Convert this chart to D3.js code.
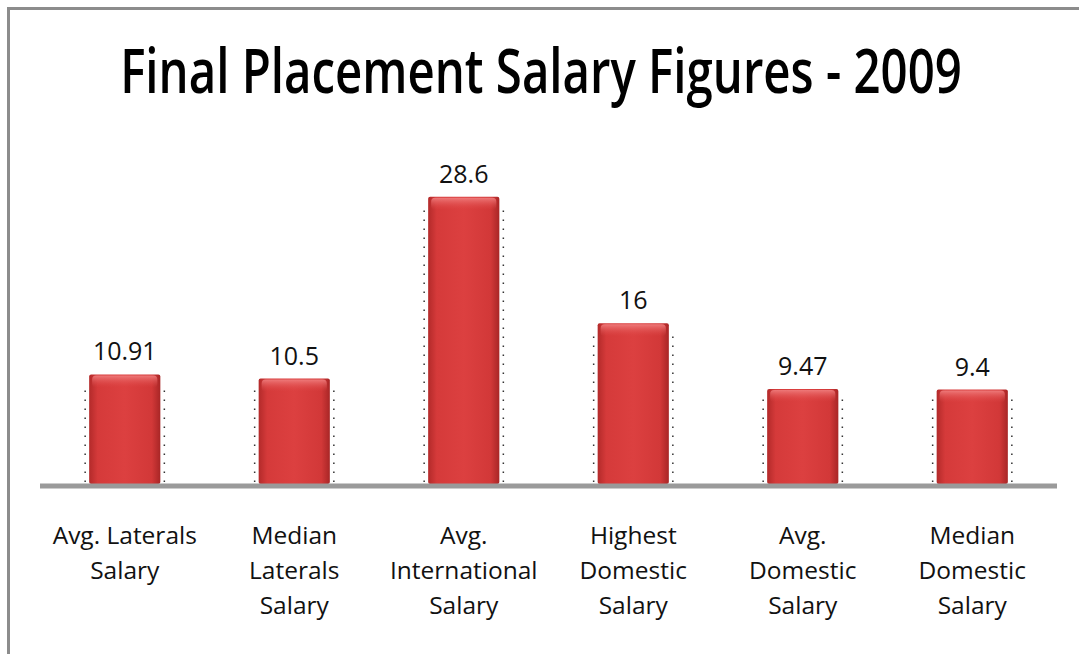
<!DOCTYPE html>
<html>
<head>
<meta charset="utf-8">
<script src="https://cdn.jsdelivr.net/npm/d3@7"></script>
<style>
  body { margin: 0; background: #fff; }
  svg text { font-family: "Open Sans", "Liberation Sans", sans-serif; }
</style>
</head>
<body>
<div id="chart"></div>
<script>
const categories = [
  ["Avg. Laterals", "Salary"],
  ["Median", "Laterals", "Salary"],
  ["Avg.", "International", "Salary"],
  ["Highest", "Domestic", "Salary"],
  ["Avg.", "Domestic", "Salary"],
  ["Median", "Domestic", "Salary"]
];
const values = [10.91, 10.5, 28.6, 16, 9.47, 9.4];
const valueLabels = ["10.91", "10.5", "28.6", "16", "9.47", "9.4"];

const width = 1079, height = 654;
const baseY = 484;

const svg = d3.select("#chart")
  .append("svg")
  .attr("width", width)
  .attr("height", height);

// frame (only top and left edges are visible in the crop)
svg.append("path")
  .attr("d", `M8.5,${height} V8.5 H${width}`)
  .attr("fill", "none")
  .attr("stroke", "#8c8c8c")
  .attr("stroke-width", 3);

// title: condensed look by squeezing horizontally to the reference width
const title = svg.append("text")
  .attr("x", 0)
  .attr("y", 0)
  .attr("text-anchor", "middle")
  .attr("font-size", 62)
  .attr("font-weight", 600)
  .text("Final Placement Salary Figures - 2009");
const titleW = title.node().getComputedTextLength();
title.attr("transform", `translate(541,93) scale(${842 / titleW},1)`);

const x = d3.scaleBand()
  .domain(d3.range(values.length))
  .range([40, 1057])
  .paddingInner(0.58)
  .paddingOuter(0.29);

const y = d3.scaleLinear()
  .domain([0, 30])
  .range([baseY, baseY - 301.2]);

const defs = svg.append("defs");
const hGrad = defs.append("linearGradient").attr("id", "barH");
hGrad.append("stop").attr("offset", "0%").attr("stop-color", "#b32a2a");
hGrad.append("stop").attr("offset", "12%").attr("stop-color", "#d53a3a");
hGrad.append("stop").attr("offset", "50%").attr("stop-color", "#dc4040");
hGrad.append("stop").attr("offset", "88%").attr("stop-color", "#d23838");
hGrad.append("stop").attr("offset", "100%").attr("stop-color", "#a82626");

const topGrad = defs.append("linearGradient").attr("id", "barTop")
  .attr("x1", 0).attr("x2", 0).attr("y1", 0).attr("y2", 1);
topGrad.append("stop").attr("offset", "0%").attr("stop-color", "#f08080").attr("stop-opacity", 0.9);
topGrad.append("stop").attr("offset", "100%").attr("stop-color", "#e04848").attr("stop-opacity", 0);

const bars = svg.append("g")
  .selectAll("g")
  .data(values)
  .join("g");

// dotted drop lines along both sides
bars.each(function (d, i) {
  const g = d3.select(this);
  [x(i) - 4, x(i) + x.bandwidth() + 4].forEach(px => {
    g.append("line")
      .attr("x1", px).attr("x2", px)
      .attr("y1", baseY - 2).attr("y2", y(d) + 10)
      .attr("stroke", "#333")
      .attr("stroke-width", 1.5)
      .attr("stroke-dasharray", "1.5,7.5");
  });
});

bars.append("rect")
  .attr("x", (d, i) => x(i))
  .attr("y", d => y(d))
  .attr("width", x.bandwidth())
  .attr("height", d => baseY - y(d))
  .attr("rx", 2)
  .attr("fill", "url(#barH)");

bars.append("rect")
  .attr("x", (d, i) => x(i) + 3)
  .attr("y", d => y(d) + 1)
  .attr("width", x.bandwidth() - 6)
  .attr("height", 12)
  .attr("rx", 4)
  .attr("fill", "url(#barTop)");

bars.append("text")
  .attr("x", (d, i) => x(i) + x.bandwidth() / 2)
  .attr("y", d => y(d) - 14)
  .attr("text-anchor", "middle")
  .attr("font-size", 25)
  .attr("fill", "#111")
  .text((d, i) => valueLabels[i]);

// axis line
svg.append("line")
  .attr("x1", 40).attr("x2", 1057)
  .attr("y1", baseY + 2).attr("y2", baseY + 2)
  .attr("stroke", "#9a9a9a")
  .attr("stroke-width", 5);

const labels = svg.append("g")
  .selectAll("text")
  .data(categories)
  .join("text")
  .attr("x", (d, i) => x(i) + x.bandwidth() / 2)
  .attr("y", 544)
  .attr("text-anchor", "middle")
  .attr("font-size", 24.5)
  .attr("fill", "#111");

labels.selectAll("tspan")
  .data(d => d)
  .join("tspan")
  .attr("x", function () { return d3.select(this.parentNode).attr("x"); })
  .attr("dy", (d, j) => j === 0 ? 0 : 35)
  .text(d => d);
</script>
</body>
</html>
